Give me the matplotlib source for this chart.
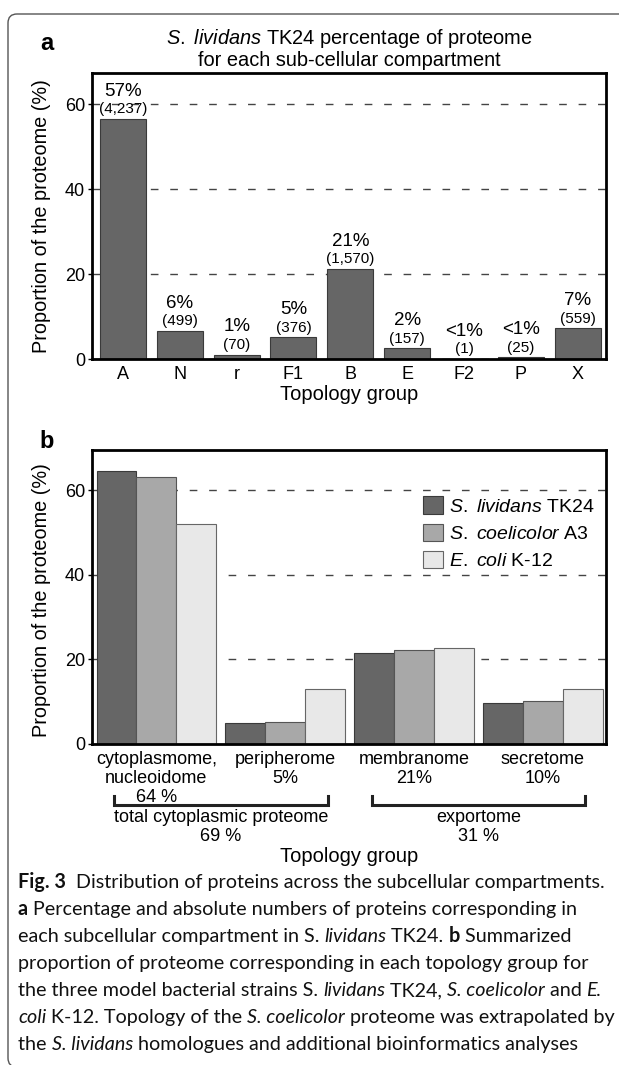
import matplotlib
matplotlib.use("Agg")
import matplotlib.pyplot as plt
import numpy as np
from matplotlib.patches import FancyBboxPatch
from matplotlib.lines import Line2D

plt.rcParams['font.family'] = 'Liberation Sans'
plt.rcParams['mathtext.fontset'] = 'custom'
plt.rcParams['mathtext.rm'] = 'Liberation Sans'
plt.rcParams['mathtext.it'] = 'Liberation Sans:italic'

# panel a data
topo_groups = ['A', 'N', 'r', 'F1', 'B', 'E', 'F2', 'P', 'X']
pct_values = [56.5, 6.6, 1.0, 5.1, 21.2, 2.5, 0.05, 0.4, 7.2]
pct_labels = ['57%', '6%', '1%', '5%', '21%', '2%', '<1%', '<1%', '7%']
count_labels = ['(4,237)', '(499)', '(70)', '(376)', '(1,570)', '(157)', '(1)', '(25)', '(559)']

# panel b data
compartments = ['cytoplasmome,\nnucleoidome\n64 %', 'peripherome\n5%', 'membranome\n21%', 'secretome\n10%']
lividans = [64.5, 5.0, 21.6, 9.8]
coelicolor = [63.1, 5.3, 22.2, 10.2]
ecoli = [51.9, 13.0, 22.8, 13.0]
strain_labels = [r'$\mathit{S.}$ $\mathit{lividans}$ TK24',
                 r'$\mathit{S.}$ $\mathit{coelicolor}$ A3',
                 r'$\mathit{E.}$ $\mathit{coli}$ K-12']
brackets = [(-0.33, 1.33, 'total cytoplasmic proteome\n69 %'), (1.67, 3.33, 'exportome\n31 %')]

W, H = 619, 1065
fig = plt.figure(figsize=(W / 100, H / 100), dpi=100)


def fx(px):
    return px / W


def fy(py):
    return 1 - py / H


def style_axes(ax):
    for s in ax.spines.values():
        s.set_linewidth(2.0)
        s.set_color('black')
    ax.set_axisbelow(True)
    ax.yaxis.grid(True, linestyle=(0, (5.5, 8.5)), color='#444444', linewidth=1.0)
    ax.tick_params(axis='y', length=3, width=1, labelsize=13, pad=2)
    ax.tick_params(axis='x', length=0, labelsize=13, pad=5)
    ax.set_yticks([0, 20, 40, 60])


# ---- panel a ----
axa = fig.add_axes([fx(92), fy(359), fx(514), (359 - 73) / H])
xa = np.arange(len(topo_groups))
axa.bar(xa, pct_values, width=0.81, color='#666666', edgecolor='#3a3a3a', linewidth=0.8)
axa.set_xlim(-0.546, 8.5)
axa.set_ylim(0, 67.3)
axa.set_xticks(xa)
axa.set_xticklabels(topo_groups)
style_axes(axa)
for x, v, p, c in zip(xa, pct_values, pct_labels, count_labels):
    axa.annotate(c, (x, v), xytext=(0, 7), textcoords='offset points',
                 ha='center', va='center', fontsize=11)
    axa.annotate(p, (x, v), xytext=(0, 20), textcoords='offset points',
                 ha='center', va='center', fontsize=13.5)
fig.text(fx(349), fy(39), r'$\mathit{S.}$ $\mathit{lividans}$ TK24 percentage of proteome',
         ha='center', va='center', fontsize=14.4)
fig.text(fx(349), fy(61), 'for each sub-cellular compartment', ha='center', va='center', fontsize=14.4)
fig.text(fx(349), fy(395), 'Topology group', ha='center', va='center', fontsize=14.5)
fig.text(fx(42), fy(216), 'Proportion of the proteome (%)', rotation=90, ha='center', va='center', fontsize=14.3)
fig.text(fx(47), fy(44), 'a', ha='center', va='center', fontsize=17, fontweight='bold')

# ---- panel b ----
axb = fig.add_axes([fx(92), fy(744), fx(514), (744 - 450) / H])
xb = np.arange(len(compartments))
bw = 0.31
axb.bar(xb - bw, lividans, width=bw, color='#666666', edgecolor='#3a3a3a', linewidth=0.8, label=strain_labels[0])
axb.bar(xb, coelicolor, width=bw, color='#a8a8a8', edgecolor='#555555', linewidth=0.8, label=strain_labels[1])
axb.bar(xb + bw, ecoli, width=bw, color='#e8e8e8', edgecolor='#666666', linewidth=0.8, label=strain_labels[2])
axb.set_xlim(-0.5, 3.49)
axb.set_ylim(0, 69.5)
axb.set_xticks(xb)
axb.set_xticklabels(compartments, linespacing=1.15)
style_axes(axb)
axb.legend(loc='upper left', bbox_to_anchor=(0.626, 0.875), frameon=False, fontsize=14,
           handlelength=1.0, handleheight=1.0, handletextpad=0.3, labelspacing=0.4, borderpad=0)

for x0, x1, lab in brackets:
    trans = axb.get_xaxis_transform()
    yb = -(805 - 744) / 294
    yt = -(796 - 744) / 294
    axb.add_line(Line2D([x0, x0, x1, x1], [yt, yb, yb, yt], transform=trans, color='#222222',
                        linewidth=2.2, clip_on=False, solid_joinstyle='miter'))
    axb.text((x0 + x1) / 2, -(827 - 744) / 294, lab, transform=trans, ha='center', va='center',
             fontsize=13, linespacing=1.15)
fig.text(fx(349), fy(857), 'Topology group', ha='center', va='center', fontsize=14.5)
fig.text(fx(42), fy(600), 'Proportion of the proteome (%)', rotation=90, ha='center', va='center', fontsize=14.3)
fig.text(fx(47), fy(442), 'b', ha='center', va='center', fontsize=17, fontweight='bold')

# ---- caption with mixed styles ----
renderer = fig.canvas.get_renderer()
cap_font = 'Lato'
cap_size = 12.0


def seg_width(s, style, weight, size):
    t = fig.text(0, 0, s + '|', family=cap_font, size=size, style=style, weight=weight)
    w1 = t.get_window_extent(renderer).width
    t.remove()
    t = fig.text(0, 0, '|', family=cap_font, size=size, style=style, weight=weight)
    w2 = t.get_window_extent(renderer).width
    t.remove()
    return w1 - w2


caption_lines = [
    [('Fig. 3', 'normal', 'bold'), ('  Distribution of proteins across the subcellular compartments.', 'normal', 'normal')],
    [('a', 'normal', 'bold'), (' Percentage and absolute numbers of proteins corresponding in', 'normal', 'normal')],
    [('each subcellular compartment in S. ', 'normal', 'normal'), ('lividans', 'italic', 'normal'),
     (' TK24. ', 'normal', 'normal'), ('b', 'normal', 'bold'), (' Summarized', 'normal', 'normal')],
    [('proportion of proteome corresponding in each topology group for', 'normal', 'normal')],
    [('the three model bacterial strains S. ', 'normal', 'normal'), ('lividans', 'italic', 'normal'),
     (' TK24, ', 'normal', 'normal'), ('S. coelicolor', 'italic', 'normal'), (' and ', 'normal', 'normal'),
     ('E.', 'italic', 'normal')],
    [('coli', 'italic', 'normal'), (' K-12. Topology of the ', 'normal', 'normal'), ('S. coelicolor', 'italic', 'normal'),
     (' proteome was extrapolated by', 'normal', 'normal')],
    [('the ', 'normal', 'normal'), ('S. lividans', 'italic', 'normal'),
     (' homologues and additional bioinformatics analyses', 'normal', 'normal')],
]

# fit the first caption line to its width in the reference (x 18 -> 604)
first_w = sum(seg_width(s, st, wt, cap_size) for s, st, wt in caption_lines[0])
cap_size = cap_size * 586 / first_w

for i, line in enumerate(caption_lines):
    xpos = 18
    ybase = 888 + 27 * i
    for s, st, wt in line:
        fig.text(fx(xpos), fy(ybase), s, family=cap_font, size=cap_size, style=st, weight=wt,
                 ha='left', va='baseline', color='#111111')
        xpos += seg_width(s, st, wt, cap_size)

# rounded frame around the figure
frame = FancyBboxPatch((8, -2), 800, H - 14 + 2, boxstyle='round,pad=0,rounding_size=9',
                       transform=None, facecolor='none', edgecolor='#555555', linewidth=1.0)
fig.add_artist(frame)

fig.savefig('out.png', dpi=100)
